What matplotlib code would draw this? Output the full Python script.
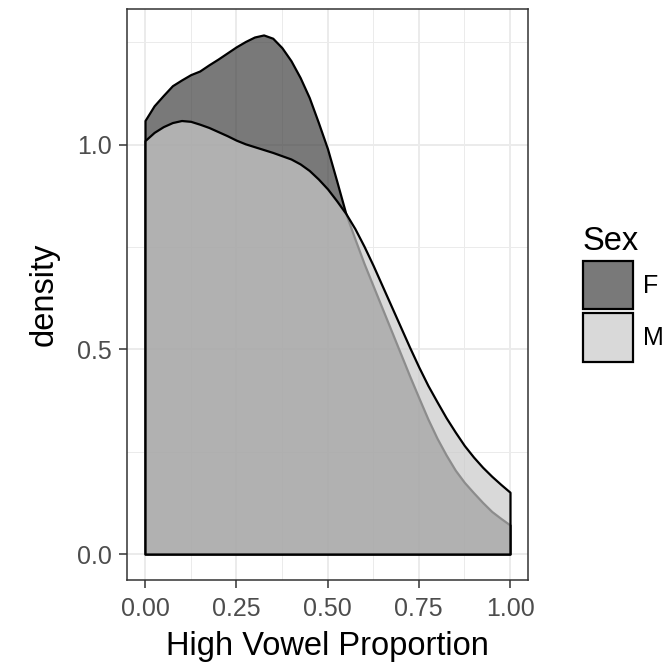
import matplotlib
matplotlib.use("Agg")
import matplotlib.pyplot as plt
from matplotlib.patches import Patch
from matplotlib.ticker import MultipleLocator

plt.rcParams['font.family'] = ['Liberation Sans', 'DejaVu Sans']

# Data (density estimates on a grid of proportions)
x_grid = [0.000, 0.025, 0.050, 0.075, 0.100, 0.125, 0.150, 0.175, 0.200, 0.225,
          0.250, 0.275, 0.300, 0.325, 0.350, 0.375, 0.400, 0.425, 0.450, 0.475,
          0.500, 0.525, 0.550, 0.575, 0.600, 0.625, 0.650, 0.675, 0.700, 0.725,
          0.750, 0.775, 0.800, 0.825, 0.850, 0.875, 0.900, 0.925, 0.950, 0.975,
          1.000]
density_F = [1.059, 1.095, 1.120, 1.144, 1.158, 1.171, 1.180, 1.195, 1.209, 1.224,
             1.239, 1.252, 1.263, 1.268, 1.260, 1.237, 1.205, 1.164, 1.115, 1.054,
             0.990, 0.912, 0.832, 0.770, 0.710, 0.655, 0.600, 0.545, 0.490, 0.435,
             0.382, 0.330, 0.283, 0.242, 0.205, 0.175, 0.150, 0.126, 0.104, 0.087,
             0.071]
density_M = [1.010, 1.030, 1.044, 1.054, 1.059, 1.057, 1.050, 1.042, 1.032, 1.022,
             1.011, 1.002, 0.995, 0.988, 0.981, 0.973, 0.965, 0.953, 0.937, 0.916,
             0.892, 0.863, 0.832, 0.795, 0.752, 0.705, 0.655, 0.605, 0.555, 0.505,
             0.457, 0.412, 0.372, 0.333, 0.298, 0.265, 0.237, 0.212, 0.190, 0.170,
             0.151]
groups = ["F", "M"]
fill_colors = {"F": (65/255, 65/255, 65/255, 0.7), "M": (201/255, 201/255, 201/255, 0.7)}
x_ticks = [0.00, 0.25, 0.50, 0.75, 1.00]
x_tick_labels = ["0.00", "0.25", "0.50", "0.75", "1.00"]
y_ticks = [0.0, 0.5, 1.0]
y_tick_labels = ["0.0", "0.5", "1.0"]

W, H = 672, 670
fig = plt.figure(figsize=(W / 100, H / 100), dpi=100)
ax = fig.add_axes([126.75 / W, 1 - 580 / H, 401.5 / W, 571 / H])

series = {"F": density_F, "M": density_M}
for g in groups:
    ax.fill_between(x_grid, 0, series[g], facecolor=fill_colors[g],
                    edgecolor="black", linewidth=1.6, joinstyle="round", zorder=3)

ymax = max(max(density_F), max(density_M))
ax.set_xlim(-0.05, 1.05)
ax.set_ylim(-0.05 * ymax, ymax * 1.05)

ax.set_xticks(x_ticks)
ax.set_xticklabels(x_tick_labels)
ax.set_yticks(y_ticks)
ax.set_yticklabels(y_tick_labels)
ax.xaxis.set_minor_locator(MultipleLocator(0.125))
ax.yaxis.set_minor_locator(MultipleLocator(0.25))

ax.grid(which="major", color="#ebebeb", linewidth=1.4, zorder=0)
ax.grid(which="minor", color="#ebebeb", linewidth=0.7, zorder=0)
ax.set_axisbelow(True)

for s in ax.spines.values():
    s.set_color("#333333")
    s.set_linewidth(1.1)

ax.tick_params(which="major", length=6, width=1.1, color="#333333",
               labelsize=18, labelcolor="#4d4d4d", pad=4.5)
ax.tick_params(axis="x", which="major", pad=6.5)
ax.tick_params(which="minor", length=0)

ax.set_xlabel("High Vowel Proportion", fontsize=23.5, color="black", labelpad=7)
ax.set_ylabel("density", fontsize=23.5, color="black", labelpad=13)

handles = [Patch(facecolor=fill_colors[g], edgecolor="black", linewidth=1.6) for g in groups]
leg = fig.legend(handles, groups, title="Sex", loc="upper left",
                 bbox_to_anchor=(583 / W, 1 - 226 / H), frameon=False,
                 fontsize=18, title_fontsize=23.5,
                 handlelength=2.0, handleheight=2.6, labelspacing=0.16,
                 handletextpad=0.4, borderaxespad=0, borderpad=0)
leg._legend_box.align = "left"

fig.savefig("out.png", dpi=100, facecolor="white")
